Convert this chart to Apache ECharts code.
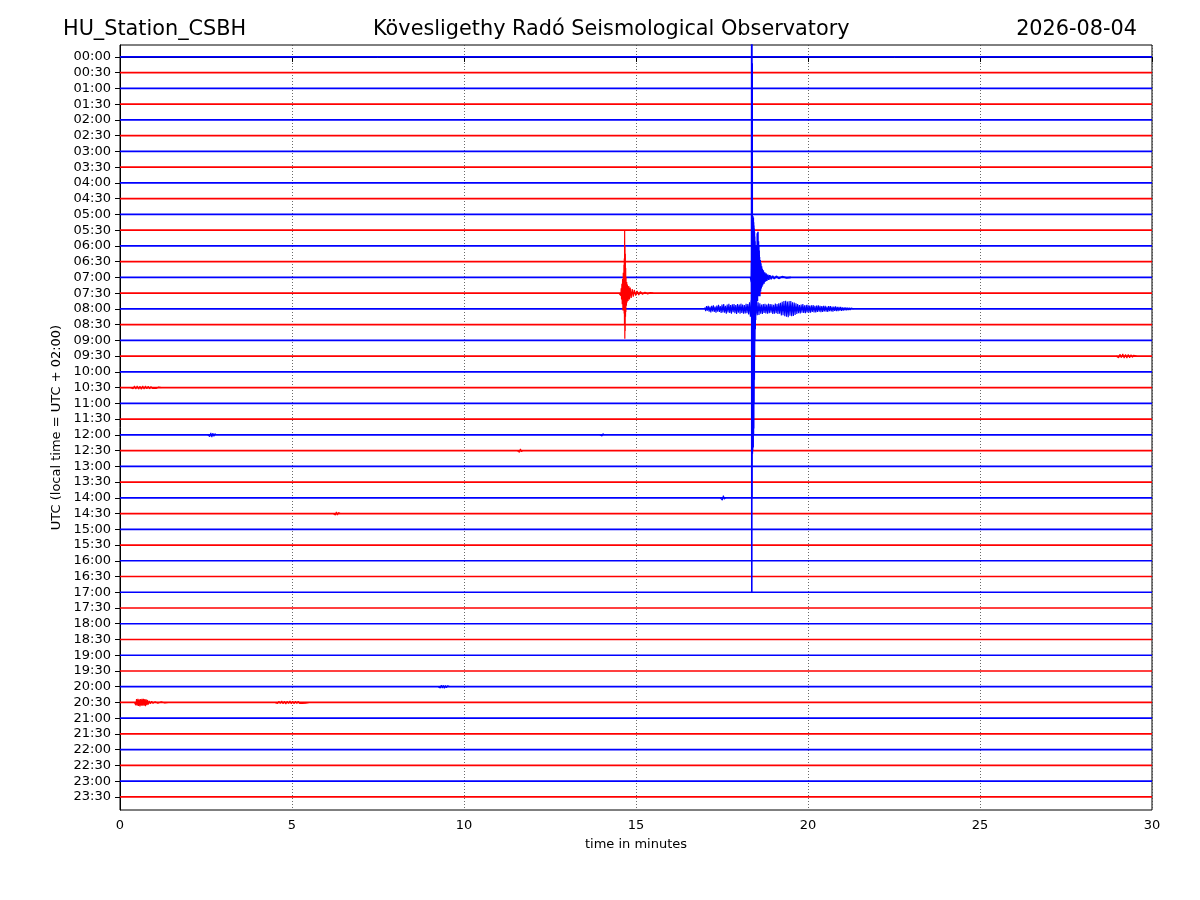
<!DOCTYPE html>
<html>
<head>
<meta charset="utf-8">
<title>HU_Station_CSBH helicorder</title>
<script src="https://cdn.jsdelivr.net/npm/echarts@6/dist/echarts.min.js"></script>
<style>
  html, body { margin: 0; padding: 0; background: #fff; }
  #main { width: 1200px; height: 900px; }
</style>
</head>
<body>
<div id="main"></div>
<script>
// one trace per half hour, top to bottom
var traceLabels = [
  '00:00', '00:30', '01:00', '01:30', '02:00', '02:30', '03:00', '03:30',
  '04:00', '04:30', '05:00', '05:30', '06:00', '06:30', '07:00', '07:30',
  '08:00', '08:30', '09:00', '09:30', '10:00', '10:30', '11:00', '11:30',
  '12:00', '12:30', '13:00', '13:30', '14:00', '14:30', '15:00', '15:30',
  '16:00', '16:30', '17:00', '17:30', '18:00', '18:30', '19:00', '19:30',
  '20:00', '20:30', '21:00', '21:30', '22:00', '22:30', '23:00', '23:30'
];
var xTicks = [0, 5, 10, 15, 20, 25, 30];

// [minute, amplitude in trace spacings, positive = up]
var spike0700 = [
  [18.33, 0], [18.35, -0.3], [18.355, 1.0], [18.358, -2.5], [18.362, 16], [18.366, -20.0],
  [18.370, 15], [18.374, -14], [18.378, 13.6], [18.382, -11.2], [18.386, 3.7], [18.390, -11.0],
  [18.394, 3.9], [18.398, -10.6], [18.402, 3.6], [18.406, -10.8], [18.410, 3.8], [18.414, -10.0],
  [18.418, 3.5], [18.422, -9.6], [18.426, 3.3], [18.430, -8.0], [18.434, 3.1], [18.438, -6.5],
  [18.442, 2.9], [18.446, -5.0], [18.450, 2.6], [18.455, -4.0], [18.46, 2.3], [18.465, -3.3],
  [18.47, 2.0], [18.475, -2.7], [18.48, 1.8], [18.485, -2.3], [18.49, 1.6], [18.495, -2.0],
  [18.50, 1.4], [18.505, -1.7],
  [18.515, 2.0], [18.52, -1.4], [18.525, 2.8], [18.53, -1.5], [18.535, 2.4], [18.54, -1.2],
  [18.545, 2.9], [18.55, -1.0], [18.56, 2.3], [18.565, -1.2], [18.57, 2.0], [18.575, -0.9],
  [18.58, 1.7], [18.585, -0.8], [18.59, 1.3], [18.60, -1.2], [18.61, 1.1], [18.62, -0.9],
  [18.63, 0.9], [18.64, -0.7], [18.65, 0.7], [18.66, -0.6], [18.67, 0.55], [18.68, -0.5],
  [18.70, 0.45], [18.72, -0.4], [18.74, 0.32], [18.76, -0.28], [18.78, 0.25], [18.80, -0.22],
  [18.83, 0.18], [18.86, -0.16], [18.89, 0.14], [18.93, -0.12], [18.97, 0.1], [19.02, -0.09],
  [19.08, 0.08], [19.15, -0.07], [19.25, 0.05], [19.38, -0.04], [19.5, 0]
];
var quake0730 = [
  [14.5, 0], [14.55, 0.1], [14.56, -0.15], [14.57, 0.3], [14.58, -0.4], [14.59, 0.6],
  [14.60, -0.7], [14.61, 0.9], [14.62, -1.1], [14.63, 1.3], [14.64, -1.0], [14.65, 1.8],
  [14.655, -1.3], [14.66, 2.2], [14.665, -2.0], [14.67, 4.0], [14.675, -2.9], [14.68, 3.0],
  [14.685, -2.4], [14.69, 2.5], [14.695, -1.5], [14.70, 1.6], [14.705, -1.2], [14.71, 1.0],
  [14.72, -0.8], [14.73, 0.7], [14.74, -0.6], [14.75, 0.55], [14.77, -0.5], [14.79, 0.45],
  [14.81, -0.4], [14.83, 0.35], [14.86, -0.3], [14.89, 0.26], [14.92, -0.22], [14.95, 0.2],
  [14.99, -0.16], [15.03, 0.14], [15.08, -0.12], [15.13, 0.1], [15.19, -0.08], [15.26, 0.06],
  [15.34, -0.05], [15.42, 0.03], [15.5, 0]
];
// emergent wave train on the 08:00 trace, read every 0.025 min from 17.0 min
var coda0800Start = 17.0;
var coda0800Step = 0.025;
var coda0800Amp = [
  0.1, -0.15, 0.18, -0.12, 0.2, -0.17, 0.14, -0.22, 0.19, -0.16, 0.23, -0.2, 0.15, -0.24, 0.21, -0.18, 0.25, -0.2, 0.17, -0.26,
  0.28, -0.22, 0.3, -0.25, 0.2, -0.3, 0.27, -0.23, 0.32, -0.26, 0.24, -0.3, 0.29, -0.21, 0.31, -0.28,
  0.25, -0.32, 0.3, -0.24, 0.27, -0.3, 0.33, -0.26, 0.28, -0.31, 0.24, -0.29, 0.32, -0.27, 0.3, -0.35,
  0.42, -0.5, 0.55, -0.6, 0.58, -0.52, 0.5, -0.45, 0.47, -0.4, 0.42, -0.38,
  0.35, -0.3, 0.28, -0.33, 0.3, -0.26, 0.32, -0.29, 0.27, -0.31, 0.33, -0.28, 0.3, -0.25, 0.29, -0.32, 0.26, -0.3, 0.34, -0.28, 0.31, -0.33, 0.36, -0.3,
  0.38, -0.42, 0.45, -0.4, 0.5, -0.47, 0.52, -0.5, 0.46, -0.53, 0.49, -0.44, 0.5, -0.46, 0.42, -0.45, 0.4, -0.38, 0.36, -0.33,
  0.3, -0.27, 0.25, -0.29, 0.28, -0.24, 0.3, -0.26, 0.23, -0.27, 0.25, -0.22, 0.26, -0.24, 0.21, -0.25, 0.23, -0.2, 0.24, -0.22, 0.2, -0.23, 0.21, -0.19,
  0.22, -0.18, 0.2, -0.21, 0.17, -0.2, 0.19, -0.16, 0.2, -0.18, 0.15, -0.19, 0.17, -0.15, 0.18, -0.16, 0.14, -0.17, 0.15, -0.13, 0.16,
  -0.14, 0.12, -0.14, 0.13, -0.11, 0.12, -0.12, 0.1, -0.11, 0.1, -0.09, 0.09, -0.1, 0.08, -0.08, 0.07, -0.07, 0.06, -0.05, 0.04, 0
];
var blip0930 = [[28.95, 0], [28.99, 0.08], [29.03, -0.1], [29.07, 0.12], [29.11, -0.1], [29.15, 0.13], [29.19, -0.12], [29.23, 0.1], [29.27, -0.13], [29.31, 0.11], [29.35, -0.1], [29.39, 0.09], [29.43, -0.08], [29.47, 0.06], [29.51, -0.05], [29.55, 0]];
var blip1030 = [[0.3, 0], [0.34, 0.06], [0.38, -0.08], [0.42, 0.1], [0.46, -0.09], [0.50, 0.11], [0.54, -0.1], [0.58, 0.09], [0.62, -0.11], [0.66, 0.1], [0.70, -0.09], [0.74, 0.1], [0.78, -0.08], [0.82, 0.09], [0.86, -0.08], [0.90, 0.07], [0.95, -0.06], [1.0, 0.06], [1.06, -0.05], [1.12, 0.04], [1.2, 0]];
var blip1200a = [[2.55, 0], [2.58, 0.08], [2.61, -0.12], [2.64, 0.13], [2.67, -0.14], [2.70, 0.11], [2.73, -0.1], [2.76, 0.07], [2.8, 0]];
var blip1200b = [[13.95, 0], [13.98, 0.06], [14.01, -0.08], [14.04, 0.07], [14.08, 0]];
var blip1230 = [[11.55, 0], [11.58, 0.08], [11.61, -0.11], [11.64, 0.1], [11.67, -0.07], [11.7, 0]];
var blip1400 = [[17.45, 0], [17.48, 0.1], [17.51, -0.14], [17.54, 0.13], [17.57, -0.09], [17.6, 0]];
var blip1430 = [[6.2, 0], [6.23, 0.07], [6.26, -0.1], [6.29, 0.1], [6.32, -0.09], [6.35, 0.06], [6.4, 0]];
var blip2000 = [[9.25, 0], [9.28, 0.07], [9.31, -0.09], [9.34, 0.1], [9.37, -0.08], [9.40, 0.09], [9.43, -0.1], [9.46, 0.08], [9.49, -0.07], [9.52, 0.06], [9.56, -0.05], [9.6, 0]];
var blip2030a = [
  [0.42, 0], [0.44, 0.1], [0.46, -0.18], [0.48, 0.22], [0.50, -0.2], [0.52, 0.24], [0.54, -0.22], [0.56, 0.2],
  [0.58, -0.25], [0.60, 0.22], [0.62, -0.2], [0.64, 0.23], [0.66, -0.21], [0.68, 0.24], [0.70, -0.2], [0.72, 0.22],
  [0.74, -0.24], [0.76, 0.2], [0.78, -0.18], [0.80, 0.16], [0.82, -0.14], [0.85, 0.1], [0.88, -0.08], [0.92, 0.07],
  [0.96, -0.06], [1.02, 0.05], [1.1, -0.05], [1.2, 0.04], [1.3, -0.03], [1.4, 0]
];
var blip2030b = [
  [4.5, 0], [4.54, 0.06], [4.58, -0.07], [4.62, 0.08], [4.66, -0.07], [4.70, 0.09], [4.74, -0.08], [4.78, 0.07],
  [4.82, -0.09], [4.86, 0.08], [4.90, -0.07], [4.94, 0.09], [4.98, -0.08], [5.02, 0.07], [5.06, -0.08], [5.10, 0.07],
  [5.14, -0.06], [5.18, 0.07], [5.22, -0.06], [5.26, 0.05], [5.30, -0.06], [5.34, 0.05], [5.40, -0.04], [5.5, 0]
];

var coda0800 = coda0800Amp.map(function (a, k) {
  return [coda0800Start + k * coda0800Step, a];
});

// which trace each wiggle sits on (index into traceLabels), last one is line width
var traceEvents = [
  [14, spike0700, 1.6], [15, quake0730, 1.2], [16, coda0800, 1.1], [19, blip0930, 1.1], [21, blip1030, 1.1],
  [24, blip1200a, 1.1], [24, blip1200b, 1.1], [25, blip1230, 1.1], [28, blip1400, 1.1], [29, blip1430, 1.1],
  [40, blip2000, 1.1], [41, blip2030a, 1.1], [41, blip2030b, 1.1]
];

var chart = echarts.init(document.getElementById('main'));
var font = 'DejaVu Sans';

function traceColor(row) {
  return row % 2 === 0 ? '#0000ff' : '#ff0000';
}

// y axis is inverted, a trace sits on its row number
function toAxis(row, pts) {
  return pts.map(function (p) {
    return [p[0], row - p[1]];
  });
}

function lineSeries(name, row, data, width) {
  return {
    name: name,
    type: 'line',
    data: data,
    showSymbol: false,
    symbol: 'none',
    silent: true,
    clip: true,
    animation: false,
    lineStyle: { color: traceColor(row), width: width }
  };
}

var series = [];
for (var r = 0; r < traceLabels.length; r++) {
  series.push(lineSeries(traceLabels[r], r, toAxis(r, [[0, 0], [30, 0]]), 1.7));
}
for (var e = 0; e < traceEvents.length; e++) {
  var row = traceEvents[e][0];
  series.push(lineSeries(traceLabels[row] + ' event ' + e, row, toAxis(row, traceEvents[e][1]), traceEvents[e][2]));
}

var rows = traceLabels.map(function (d, i) { return i; });
var titleStyle = { fontFamily: font, fontSize: 20.8, fontWeight: 'normal', color: '#000' };

var option = {
  backgroundColor: '#fff',
  animation: false,
  title: [{
    text: 'HU_Station_CSBH',
    left: 63,
    top: 19,
    padding: 0,
    textStyle: titleStyle
  }, {
    text: 'Kövesligethy Radó Seismological Observatory',
    left: 373,
    top: 19,
    padding: 0,
    textStyle: titleStyle
  }, {
    text: '2026-08-04',
    right: 63,
    top: 19,
    padding: 0,
    textStyle: titleStyle
  }],
  grid: {
    left: 120,
    right: 48,
    top: 45,
    bottom: 90,
    show: true,
    borderColor: '#000',
    borderWidth: 1,
    containLabel: false
  },
  xAxis: {
    type: 'value',
    min: xTicks[0],
    max: xTicks[xTicks.length - 1],
    interval: 5,
    name: 'time in minutes',
    nameLocation: 'middle',
    nameGap: 28,
    nameTextStyle: { fontFamily: font, fontSize: 13, color: '#000' },
    axisLine: { show: true, lineStyle: { color: '#000', width: 1 } },
    axisTick: { show: true, length: 5, lineStyle: { color: '#000' } },
    axisLabel: { fontFamily: font, fontSize: 13, color: '#000', margin: 9 },
    splitLine: { show: true, lineStyle: { color: '#444', width: 0.8, type: [1, 2] } }
  },
  yAxis: {
    type: 'value',
    inverse: true,
    min: -0.76,
    max: 47.83,
    name: 'UTC (local time = UTC + 02:00)',
    nameLocation: 'middle',
    nameGap: 57,
    nameTextStyle: { fontFamily: font, fontSize: 13, color: '#000' },
    axisLine: { show: true, lineStyle: { color: '#000', width: 1 } },
    axisTick: { show: true, length: 5, customValues: rows, lineStyle: { color: '#000' } },
    axisLabel: {
      fontFamily: font,
      fontSize: 13,
      color: '#000',
      margin: 9,
      customValues: rows,
      formatter: function (v) {
        return traceLabels[Math.round(v)] || '';
      }
    },
    splitLine: { show: false }
  },
  series: series
};

chart.setOption(option);
</script>
</body>
</html>
